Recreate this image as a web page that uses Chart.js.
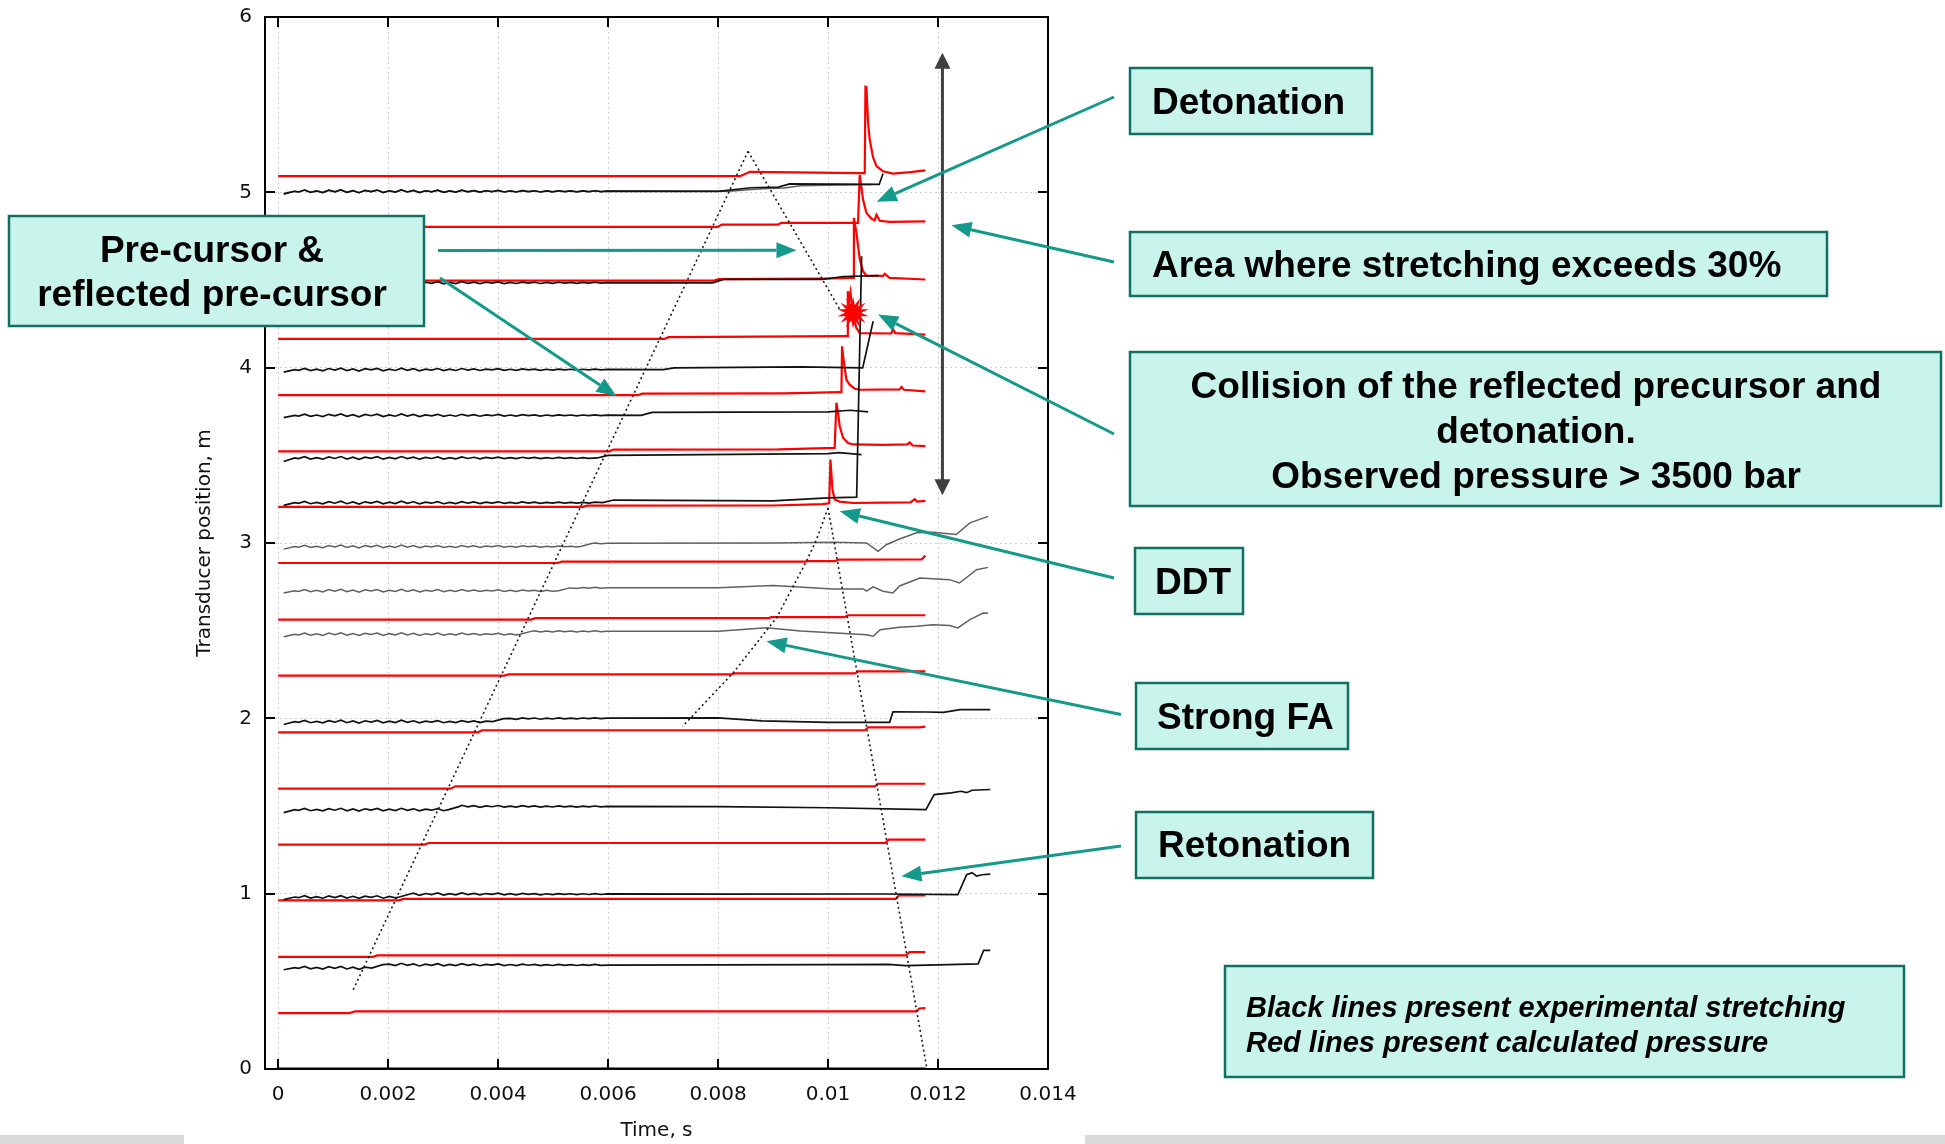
<!DOCTYPE html>
<html>
<head>
<meta charset="utf-8">
<script src="https://cdn.jsdelivr.net/npm/chart.js@4/dist/chart.umd.min.js"></script>
<style>
  html, body { margin: 0; padding: 0; background: #fff; overflow: hidden; }
  canvas { display: block; }
</style>
</head>
<body>
<canvas id="c" width="1945" height="1144"></canvas>
<script>
// ---- Axes ----
const xTicks = [0, 0.002, 0.004, 0.006, 0.008, 0.010, 0.012, 0.014];
const xTickLabels = ['0', '0.002', '0.004', '0.006', '0.008', '0.01', '0.012', '0.014'];
const yTicks = [0, 1, 2, 3, 4, 5, 6];
const yTickLabels = ['0', '1', '2', '3', '4', '5', '6'];

// ---- Calculated pressure traces, offset to transducer position [time s, position m] ----
const p000 = [[0, 0.004], [0.01177, 0.004]];
const p032 = [[0, 0.319], [0.00130, 0.319], [0.00140, 0.329], [0.01160, 0.329], [0.01166, 0.345], [0.01177, 0.348]];
const p064 = [[0, 0.639], [0.00172, 0.639], [0.00180, 0.648], [0.01142, 0.648], [0.01148, 0.667], [0.01177, 0.667]];
const p096 = [[0, 0.962], [0.00220, 0.962], [0.00228, 0.970], [0.01123, 0.970], [0.01129, 0.990], [0.01177, 0.990]];
const p128 = [[0, 1.280], [0.00266, 1.280], [0.00274, 1.289], [0.01104, 1.289], [0.01110, 1.308], [0.01177, 1.308]];
const p160 = [[0, 1.599], [0.00314, 1.599], [0.00322, 1.612], [0.01085, 1.612], [0.01091, 1.627], [0.01177, 1.627]];
const p192 = [[0, 1.920], [0.00363, 1.920], [0.00371, 1.932], [0.01067, 1.932], [0.01073, 1.949], [0.01165, 1.949], [0.01177, 1.953]];
const p224 = [[0, 2.244], [0.00411, 2.244], [0.00419, 2.251], [0.00824, 2.251], [0.00830, 2.256], [0.01049, 2.256], [0.01055, 2.268], [0.01177, 2.268]];
const p256 = [[0, 2.563], [0.00460, 2.563], [0.00468, 2.571], [0.00891, 2.571], [0.00897, 2.577], [0.01030, 2.577], [0.01036, 2.588], [0.01177, 2.588]];
const p288 = [[0, 2.886], [0.00508, 2.886], [0.00516, 2.894], [0.00958, 2.894], [0.00964, 2.897], [0.01013, 2.897], [0.01019, 2.905], [0.01170, 2.906], [0.01177, 2.928]];
const p320 = [[0, 3.206], [0.00554, 3.206], [0.00562, 3.213], [0.00900, 3.214], [0.00990, 3.222], [0.01002, 3.226], [0.010043, 3.476], [0.010080, 3.305], [0.010121, 3.248], [0.010212, 3.236], [0.010455, 3.228], [0.01100, 3.230], [0.01150, 3.232], [0.011576, 3.250], [0.01162, 3.236], [0.01177, 3.240]];
const p352 = [[0, 3.523], [0.00602, 3.523], [0.00610, 3.533], [0.00910, 3.534], [0.01012, 3.542], [0.010152, 3.800], [0.010182, 3.742], [0.010212, 3.666], [0.010273, 3.600], [0.010364, 3.570], [0.010455, 3.562], [0.01100, 3.560], [0.01144, 3.562], [0.011485, 3.573], [0.01154, 3.556], [0.01177, 3.553]];
const p384 = [[0, 3.843], [0.00654, 3.843], [0.00662, 3.852], [0.00920, 3.853], [0.01022, 3.860], [0.010243, 3.860], [0.010255, 4.122], [0.010280, 4.050], [0.010334, 3.930], [0.010394, 3.903], [0.010485, 3.880], [0.010576, 3.874], [0.01130, 3.876], [0.011334, 3.890], [0.01138, 3.874], [0.01177, 3.865]];
const p416 = [[0, 4.164], [0.00702, 4.164], [0.00710, 4.174], [0.01030, 4.180], [0.010345, 4.180], [0.010360, 4.436], [0.010380, 4.380], [0.010407, 4.430], [0.010455, 4.293], [0.010516, 4.226], [0.010576, 4.197], [0.01115, 4.195], [0.01118, 4.220], [0.01122, 4.197], [0.01177, 4.189]];
const p448 = [[0, 4.497], [0.00793, 4.497], [0.00801, 4.505], [0.00990, 4.508], [0.01040, 4.512], [0.010455, 4.512], [0.010470, 4.854], [0.010516, 4.769], [0.010576, 4.620], [0.010636, 4.550], [0.010697, 4.525], [0.01100, 4.523], [0.01103, 4.535], [0.01112, 4.512], [0.01177, 4.503]];
const p480 = [[0, 4.803], [0.00799, 4.803], [0.00807, 4.816], [0.00909, 4.816], [0.00915, 4.826], [0.010545, 4.826], [0.010576, 5.100], [0.010636, 4.959], [0.010697, 4.883], [0.010788, 4.850], [0.010849, 4.840], [0.010880, 4.872], [0.010940, 4.838], [0.01112, 4.832], [0.01177, 4.834]];
const p510 = [[0, 5.092], [0.00840, 5.092], [0.00858, 5.117], [0.010576, 5.110], [0.010667, 5.110], [0.010680, 5.602], [0.010697, 5.600], [0.010727, 5.400], [0.010758, 5.300], [0.010818, 5.200], [0.010880, 5.150], [0.01100, 5.120], [0.01118, 5.107], [0.01150, 5.115], [0.01177, 5.125]];

// ---- Measured stretching traces [time s, position m] ----
const s058 = [[0.0001, 0.566], [0.0003, 0.578], [0.0017, 0.576], [0.0019, 0.595], [0.0060, 0.593], [0.0100, 0.595], [0.0111, 0.597], [0.0114, 0.590], [0.0120, 0.594], [0.01273, 0.600], [0.01283, 0.677], [0.01295, 0.677]];
const s098 = [[0.0001, 0.966], [0.0003, 0.981], [0.0022, 0.981], [0.0024, 0.998], [0.0080, 0.997], [0.0110, 0.998], [0.01236, 0.994], [0.01252, 1.108], [0.01262, 1.120], [0.01270, 1.100], [0.01280, 1.108], [0.01295, 1.112]];
const s148 = [[0.0001, 1.462], [0.0003, 1.479], [0.0031, 1.479], [0.0033, 1.498], [0.0080, 1.496], [0.0100, 1.490], [0.01178, 1.479], [0.01193, 1.565], [0.01224, 1.575], [0.01242, 1.584], [0.01252, 1.576], [0.01262, 1.590], [0.01295, 1.594]];
const s198 = [[0.0001, 1.965], [0.0003, 1.981], [0.0039, 1.981], [0.0041, 1.998], [0.0080, 2.003], [0.0088, 1.985], [0.0100, 1.977], [0.01112, 1.977], [0.01118, 2.037], [0.0118, 2.036], [0.0121, 2.034], [0.0124, 2.050], [0.01295, 2.050]];
const s248 = [[0.0001, 2.465], [0.0003, 2.480], [0.0044, 2.480], [0.0046, 2.496], [0.0080, 2.496], [0.00888, 2.516], [0.0095, 2.498], [0.0107, 2.477], [0.01082, 2.468], [0.01095, 2.505], [0.0113, 2.520], [0.01161, 2.525], [0.01191, 2.534], [0.01221, 2.530], [0.01236, 2.516], [0.01258, 2.563], [0.01282, 2.601], [0.01291, 2.600]];
const s273 = [[0.0001, 2.715], [0.0003, 2.728], [0.0051, 2.728], [0.0053, 2.744], [0.0080, 2.745], [0.0090, 2.757], [0.01009, 2.738], [0.01064, 2.738], [0.0107, 2.725], [0.01082, 2.750], [0.0110, 2.725], [0.01118, 2.715], [0.0113, 2.755], [0.01167, 2.800], [0.01221, 2.791], [0.01239, 2.772], [0.0127, 2.848], [0.01291, 2.861]];
const s298 = [[0.0001, 2.965], [0.0003, 2.980], [0.0055, 2.980], [0.0057, 2.997], [0.0090, 3.000], [0.0101, 3.004], [0.0107, 3.000], [0.01091, 2.953], [0.01106, 2.990], [0.0113, 3.023], [0.01161, 3.058], [0.01191, 3.061], [0.01233, 3.048], [0.01258, 3.115], [0.01291, 3.152]];
const s323 = [[0.0001, 3.215], [0.0003, 3.230], [0.0059, 3.230], [0.0061, 3.245], [0.0090, 3.240], [0.0100, 3.257], [0.01052, 3.262], [0.01061, 4.635]];
const s348 = [[0.0001, 3.465], [0.0003, 3.485], [0.0058, 3.485], [0.0060, 3.500], [0.0100, 3.510], [0.0102, 3.515], [0.01061, 3.504]];
const s373 = [[0.0001, 3.715], [0.0003, 3.728], [0.0066, 3.728], [0.0068, 3.745], [0.0100, 3.748], [0.0104, 3.757], [0.01073, 3.748]];
const s399 = [[0.0001, 3.975], [0.0003, 3.989], [0.0070, 3.989], [0.0072, 3.999], [0.0095, 4.005], [0.01063, 3.999], [0.01082, 4.265]];
const s448 = [[0.0001, 4.468], [0.0003, 4.484], [0.0079, 4.484], [0.0081, 4.503], [0.0099, 4.503], [0.01027, 4.520], [0.01092, 4.525]];
const s500a = [[0.0001, 4.990], [0.0003, 5.006], [0.0080, 5.006], [0.0086, 5.026], [0.0091, 5.030], [0.0093, 5.048], [0.01093, 5.045], [0.0110, 5.107]];
const s500b = [[0.0001, 4.995], [0.0003, 5.006], [0.0082, 5.006], [0.0088, 5.020], [0.0092, 5.025], [0.0095, 5.038], [0.0108, 5.045]];

// Common gauge ripple seen on every stretching channel during the first ~6 ms [m],
// sampled every rippleStep seconds starting at rippleStart.
const rippleStart = 0.00015;
const rippleStep = 0.00011;
const ripple = [-0.008, 0.006, -0.004, 0.007, -0.006, 0.002, -0.007, 0.006, -0.003, 0.008,
                -0.006, 0.004, -0.008, 0.005, -0.002, 0.007, -0.007, 0.003, -0.005, 0.008,
                -0.004, 0.005, -0.007, 0.003, -0.003, 0.006, -0.006, 0.002, -0.005, 0.006,
                -0.003, 0.004, -0.005, 0.003, -0.002, 0.005, -0.004, 0.002, -0.004, 0.004,
                -0.002, 0.003, -0.004, 0.002, -0.003, 0.003, -0.002, 0.002, -0.003, 0.002,
                -0.002, 0.003, -0.002, 0.001];

// ---- Wave paths (dotted) ----
const precursorPath = [[0.001364, 0.452], [0.008545, 5.234]];
const reflectedPath = [[0.008545, 5.234], [0.010213, 4.332]];
const retonationPath = [[0.0100, 3.200], [0.01179, 0.015]];
const flamePath = [[0.0100, 3.200], [0.00979, 3.020], [0.009607, 2.896], [0.009062, 2.573], [0.008273, 2.259], [0.007353, 1.954]];

const pressureTraces = [p000, p032, p064, p096, p128, p160, p192, p224, p256, p288, p320, p352, p384, p416, p448, p480, p510];
const darkStretch = [s058, s098, s148, s198, s323, s348, s373, s399, s448, s500a];
const lightStretch = [s248, s273, s298, s500b];
const wavePaths = [precursorPath, reflectedPath, retonationPath, flamePath];

const pts = a => a.map(([x, y]) => ({ x, y }));
// stretching trace with the gauge ripple laid over its quiet (flat) stretches
function stretchPts(a) {
  const out = [{ x: a[0][0], y: a[0][1] }];
  for (let k = 1; k < a.length; k++) {
    const [t0, y0] = a[k];
    out.push({ x: t0, y: y0 });
    if (k + 1 < a.length) {
      const [t1, y1] = a[k + 1];
      if (Math.abs(y1 - y0) < 0.01 && t1 - t0 > 0.0005) {
        ripple.forEach((d, i) => {
          const t = rippleStart + i * rippleStep;
          if (t > t0 + 0.00003 && t < t1 - 0.00005) {
            out.push({ x: t, y: y0 + (y1 - y0) * (t - t0) / (t1 - t0) + d });
          }
        });
      }
    }
  }
  return out;
}
const datasets = [];
wavePaths.forEach(a => datasets.push({ data: pts(a), borderColor: '#1a1a1a', borderWidth: 1.6, borderDash: [2, 3] }));
darkStretch.forEach(a => datasets.push({ data: stretchPts(a), borderColor: '#111', borderWidth: 1.7 }));
lightStretch.forEach(a => datasets.push({ data: stretchPts(a), borderColor: '#606060', borderWidth: 1.5 }));
pressureTraces.forEach(a => datasets.push({ data: pts(a), borderColor: '#ff0000', borderWidth: 2.2 }));
datasets.forEach(d => { d.showLine = true; d.pointRadius = 0; d.fill = false; d.tension = 0; });

// ---- Callouts ----
const TEAL = '#14998a';
const callouts = [
  { x: 1130, y: 68, w: 242, h: 66, lines: ['Detonation'], tx: 1152, ty: 104, align: 'left' },
  { x: 1130, y: 232, w: 697, h: 64, lines: ['Area where stretching exceeds 30%'], tx: 1152, ty: 267, align: 'left' },
  { x: 1130, y: 352, w: 811, h: 154, lines: ['Collision of the reflected precursor and', 'detonation.', 'Observed pressure > 3500 bar'], tx: 1536, ty: 388, lh: 45, align: 'center' },
  { x: 1135, y: 548, w: 108, h: 66, lines: ['DDT'], tx: 1155, ty: 584, align: 'left' },
  { x: 1136, y: 683, w: 212, h: 66, lines: ['Strong FA'], tx: 1157, ty: 719, align: 'left' },
  { x: 1136, y: 812, w: 237, h: 66, lines: ['Retonation'], tx: 1158, ty: 847, align: 'left' },
  { x: 9, y: 216, w: 415, h: 110, lines: ['Pre-cursor &', 'reflected pre-cursor'], tx: 212, ty: 252, lh: 44, align: 'center' },
  { x: 1225, y: 966, w: 679, h: 111, lines: ['Black lines present experimental stretching', 'Red lines present calculated pressure'], tx: 1246, ty: 1009, lh: 35, align: 'left', italic: true }
];
// pointers: tail in page pixels, tip at a (time, position) on the chart
const pointers = [
  { from: [1114, 97], to: [0.010885, 4.947] },
  { from: [1114, 262], to: [0.012244, 4.812] },
  { from: [438, 250.6], to: [0.009425, 4.670] },
  { from: [440, 278], to: [0.006153, 3.837] },
  { from: [1114, 434], to: [0.010909, 4.303] },
  { from: [1114, 578], to: [0.010213, 3.181] },
  { from: [1121, 714.5], to: [0.00888, 2.439] },
  { from: [1121, 846], to: [0.011334, 1.099] }
];
const stretchSpan = { t: 0.01208, top: 5.796, bottom: 3.272 };
const collisionPoint = { t: 0.010455, y: 4.313 };

function arrowHead(ctx, x1, y1, x2, y2, len, half) {
  const a = Math.atan2(y2 - y1, x2 - x1);
  const bx = x2 - len * Math.cos(a), by = y2 - len * Math.sin(a);
  ctx.beginPath();
  ctx.moveTo(x2, y2);
  ctx.lineTo(bx + half * Math.sin(a), by - half * Math.cos(a));
  ctx.lineTo(bx - half * Math.sin(a), by + half * Math.cos(a));
  ctx.closePath();
  ctx.fill();
  return [bx, by];
}

const overlay = {
  id: 'overlay',
  afterDraw(chart) {
    const { ctx, chartArea: a, scales: { x, y } } = chart;
    ctx.save();

    // frame and inward ticks
    ctx.strokeStyle = '#000';
    ctx.lineWidth = 2;
    ctx.strokeRect(a.left, a.top, a.right - a.left, a.bottom - a.top);
    ctx.beginPath();
    xTicks.forEach(v => {
      const px = Math.round(x.getPixelForValue(v));
      ctx.moveTo(px, a.bottom); ctx.lineTo(px, a.bottom - 10);
      ctx.moveTo(px, a.top); ctx.lineTo(px, a.top + 10);
    });
    yTicks.forEach(v => {
      const py = Math.round(y.getPixelForValue(v));
      ctx.moveTo(a.left, py); ctx.lineTo(a.left + 10, py);
      ctx.moveTo(a.right, py); ctx.lineTo(a.right - 10, py);
    });
    ctx.stroke();

    // span of strong stretching (double arrow)
    const sx = x.getPixelForValue(stretchSpan.t);
    const sTop = y.getPixelForValue(stretchSpan.top);
    const sBot = y.getPixelForValue(stretchSpan.bottom);
    ctx.strokeStyle = '#404040';
    ctx.fillStyle = '#404040';
    ctx.lineWidth = 3;
    ctx.beginPath();
    ctx.moveTo(sx, sTop + 12); ctx.lineTo(sx, sBot - 12);
    ctx.stroke();
    arrowHead(ctx, sx, sBot, sx, sTop, 16, 8);
    arrowHead(ctx, sx, sTop, sx, sBot, 16, 8);

    // collision burst
    const cx = x.getPixelForValue(collisionPoint.t), cy = y.getPixelForValue(collisionPoint.y);
    ctx.fillStyle = '#ff0000';
    ctx.beginPath();
    const n = 14;
    for (let i = 0; i < n * 2; i++) {
      const r = i % 2 === 0 ? 16 : 8;
      const ang = Math.PI * i / n - Math.PI / 2;
      const px = cx + r * Math.cos(ang), py = cy + r * Math.sin(ang);
      if (i === 0) ctx.moveTo(px, py); else ctx.lineTo(px, py);
    }
    ctx.closePath();
    ctx.fill();

    // callout boxes
    callouts.forEach(b => {
      ctx.fillStyle = '#c9f4ec';
      ctx.fillRect(b.x, b.y, b.w, b.h);
      ctx.strokeStyle = '#117061';
      ctx.lineWidth = 2.5;
      ctx.strokeRect(b.x, b.y, b.w, b.h);
      ctx.fillStyle = '#000';
      ctx.font = b.italic ? 'italic bold 29px "Liberation Sans", Arial, sans-serif' : 'bold 37px "Liberation Sans", Arial, sans-serif';
      ctx.textAlign = b.align;
      ctx.textBaseline = 'middle';
      b.lines.forEach((t, i) => ctx.fillText(t, b.tx, b.ty + i * (b.lh || 0)));
    });

    // pointer arrows
    ctx.strokeStyle = TEAL;
    ctx.fillStyle = TEAL;
    ctx.lineWidth = 3;
    pointers.forEach(p => {
      const [x1, y1] = p.from;
      const x2 = x.getPixelForValue(p.to[0]), y2 = y.getPixelForValue(p.to[1]);
      const [bx, by] = arrowHead(ctx, x1, y1, x2, y2, 20, 8);
      ctx.beginPath();
      ctx.moveTo(x1, y1); ctx.lineTo(bx, by);
      ctx.stroke();
    });

    // slide strips along the bottom edge
    ctx.fillStyle = '#d9d9d9';
    ctx.fillRect(0, 1135, 184, 9);
    ctx.fillRect(1085, 1135, 860, 9);
    ctx.restore();
  }
};

const tickFont = { family: 'DejaVu Sans', size: 20 };
new Chart(document.getElementById('c').getContext('2d'), {
  type: 'scatter',
  data: { datasets },
  options: {
    responsive: false,
    animation: false,
    devicePixelRatio: 1,
    layout: { padding: { left: 193, right: 897, top: 17, bottom: 1 } },
    plugins: { legend: { display: false }, tooltip: { enabled: false } },
    scales: {
      x: {
        type: 'linear', min: -0.00024, max: 0.014,
        afterFit: s => { s.height = 74; s.paddingLeft = 0; s.paddingRight = 0; },
        afterBuildTicks: s => { s.ticks = xTicks.map(v => ({ value: v })); },
        ticks: { callback: (v, i) => xTickLabels[i], font: tickFont, color: '#111', padding: 14, maxRotation: 0, autoSkip: false },
        grid: { color: '#cfcfcf', lineWidth: 1, drawTicks: false },
        border: { display: false, dash: [2, 3] },
        title: { display: true, text: 'Time, s', font: tickFont, color: '#111', padding: 0 }
      },
      y: {
        type: 'linear', min: 0, max: 6,
        afterFit: s => { s.width = 72; s.paddingTop = 0; s.paddingBottom = 0; },
        afterBuildTicks: s => { s.ticks = yTicks.map(v => ({ value: v })); },
        ticks: { callback: (v, i) => yTickLabels[i], font: tickFont, color: '#111', padding: 13, autoSkip: false },
        grid: { color: '#cfcfcf', lineWidth: 1, drawTicks: false },
        border: { display: false, dash: [2, 3] },
        title: { display: true, text: 'Transducer position, m', font: tickFont, color: '#111', padding: 0 }
      }
    }
  },
  plugins: [overlay]
});
</script>
</body>
</html>
